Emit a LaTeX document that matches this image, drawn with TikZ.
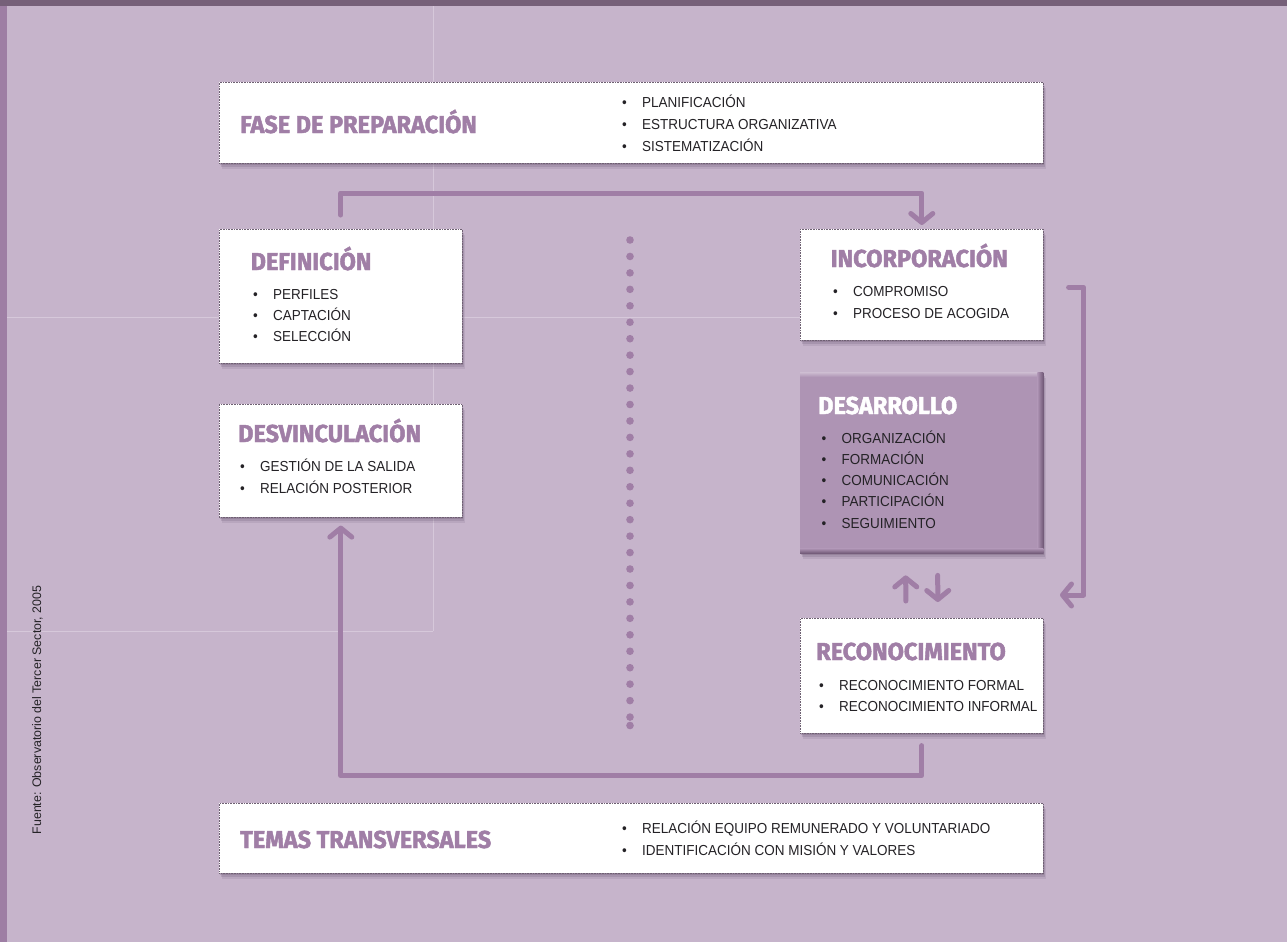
\documentclass[tikz,border=0pt]{standalone}
\usepackage{fontspec}
\setmainfont{Liberation Sans}
\newfontfamily\headfont{Fira Sans}[FakeStretch=0.96,FakeBold=1.8]
\newfontfamily\bodyfont{Liberation Sans}[FakeStretch=0.93]
\usetikzlibrary{arrows.meta}

\definecolor{bgc}{RGB}{198,180,203}
\definecolor{topc}{RGB}{118,96,121}
\definecolor{stripc}{RGB}{158,126,164}
\definecolor{gridc}{RGB}{214,200,218}
\definecolor{headc}{RGB}{160,126,166}
\definecolor{arrowc}{RGB}{160,126,166}
\definecolor{desc}{RGB}{174,148,180}
\definecolor{desdark}{RGB}{112,88,118}
\definecolor{deslight}{RGB}{206,190,210}
\definecolor{bodyc}{RGB}{36,34,38}
\definecolor{borderc}{RGB}{110,96,114}
\definecolor{shadowc}{RGB}{70,50,78}

\newcommand\bodyfnt{\bodyfont\fontsize{14.5}{16}\selectfont}
\newcommand\headfnt{\headfont\bfseries\fontsize{24.5}{28}\selectfont}
\newcommand\bul{\makebox[20pt][l]{•}}

\tikzset{
  boxshadow/.style={
    preaction={fill=shadowc, fill opacity=0.18, transform canvas={xshift=1pt,yshift=-2pt}},
    preaction={fill=shadowc, fill opacity=0.15, transform canvas={xshift=2pt,yshift=-4pt}},
    preaction={fill=shadowc, fill opacity=0.10, transform canvas={xshift=3pt,yshift=-6pt}}},
  card/.style={boxshadow, draw=borderc, densely dotted, line width=0.6pt, fill=white,
    anchor=north west, inner sep=0pt},
  devcard/.style={boxshadow, fill=desc, anchor=north west, inner sep=0pt},
  head/.style={anchor=base west, inner sep=0pt, font=\headfnt, text=headc},
  item/.style={anchor=base west, inner sep=0pt, font=\bodyfnt, text=bodyc},
  flow/.style={draw=arrowc, line width=5pt, line cap=round, line join=round,
    -{Straight Barb[length=9pt,width=22pt,round]}},
  dot/.style={fill=arrowc},
  grid line/.style={draw=gridc, line width=1pt},
}

\begin{document}
\begin{tikzpicture}[x=1pt,y=-1pt]
  \useasboundingbox (0,0) rectangle (1287,942);
  % page background, side strip and top band
  \fill[bgc] (0,0) rectangle (1287,942);
  \draw[grid line] (433,6) -- (433,631);
  \draw[grid line] (6,317) -- (820,317);
  \draw[grid line] (6,631) -- (433,631);
  \fill[stripc] (0,0) rectangle (6.5,942);
  \fill[topc] (0,0) rectangle (1287,6);

  % source note
  \node[rotate=90, anchor=base, inner sep=0pt, text=bodyc,
        font=\fontsize{12.4}{14}\selectfont] (fuente) at (41,710)
        {Fuente: Observatorio del Tercer Sector, 2005};

  % boxes
  \node[card, minimum width=824pt, minimum height=81pt] (fase) at (219,82) {};
  \node[card, minimum width=243pt, minimum height=134pt] (def) at (219,229) {};
  \node[card, minimum width=243pt, minimum height=113pt] (desv) at (219,404) {};
  \node[card, minimum width=243pt, minimum height=111pt] (inc) at (800,229) {};
  \node[devcard, minimum width=243pt, minimum height=181pt] (des) at (800,372) {};
  \node[card, minimum width=243pt, minimum height=115pt] (rec) at (800,618) {};
  \node[card, minimum width=824pt, minimum height=70pt] (temas) at (219,803) {};

  % bevelled edges of the development box
  \shade[top color=deslight, bottom color=desc] (des.north west) rectangle ([yshift=-5pt]des.north east);
  \shade[left color=desc, right color=desdark] ([xshift=-6pt]des.north east) rectangle (des.south east);
  \shade[top color=desc, bottom color=desdark] ([yshift=5pt]des.south west) rectangle (des.south east);

  % headings
  \node[head] (fase-h) at (240,133) {FASE DE PREPARACIÓN};
  \node[head] (def-h) at (250.5,270) {DEFINICIÓN};
  \node[head] (desv-h) at (238,442) {DESVINCULACIÓN};
  \node[head] (inc-h) at (830.5,267) {INCORPORACIÓN};
  \node[head, text=white] (des-h) at (818,414) {DESARROLLO};
  \node[head] (rec-h) at (816,660) {RECONOCIMIENTO};
  \node[head] (temas-h) at (240,848) {TEMAS TRANSVERSALES};

  % bullet lists
  \foreach \t [count=\i] in {PLANIFICACIÓN, ESTRUCTURA ORGANIZATIVA, SISTEMATIZACIÓN}
    \node[item] (fase-\i) at (622,{107+22*(\i-1)}) {\bul\t};
  \foreach \t [count=\i] in {PERFILES, CAPTACIÓN, SELECCIÓN}
    \node[item] (def-\i) at (253,{299+21.3*(\i-1)}) {\bul\t};
  \foreach \t [count=\i] in {GESTIÓN DE LA SALIDA, RELACIÓN POSTERIOR}
    \node[item] (desv-\i) at (240,{471.5+21.5*(\i-1)}) {\bul\t};
  \foreach \t [count=\i] in {COMPROMISO, PROCESO DE ACOGIDA}
    \node[item] (inc-\i) at (833,{296.7+21.3*(\i-1)}) {\bul\t};
  \foreach \t [count=\i] in {ORGANIZACIÓN, FORMACIÓN, COMUNICACIÓN, PARTICIPACIÓN, SEGUIMIENTO}
    \node[item] (des-\i) at (821.5,{443+21.25*(\i-1)}) {\bul\t};
  \foreach \t [count=\i] in {RECONOCIMIENTO FORMAL, RECONOCIMIENTO INFORMAL}
    \node[item] (rec-\i) at (819,{690.7+21*(\i-1)}) {\bul\t};
  \foreach \t [count=\i] in {RELACIÓN EQUIPO REMUNERADO Y VOLUNTARIADO, IDENTIFICACIÓN CON MISIÓN Y VALORES}
    \node[item] (temas-\i) at (622,{833+22.5*(\i-1)}) {\bul\t};

  % dotted divider
  \foreach \k in {0,...,29}
    \fill[dot] (630,{240+16.45*\k}) circle (3.8);
  \fill[dot] (630,725.5) circle (3.8);

  % connectors
  \draw[flow] ([yshift=14pt]def.north) |- ([yshift=36pt]inc.north) -- ([yshift=4pt]inc.north);
  \coordinate (loopend) at (1060,595);
  \draw[flow] ([xshift=25pt,yshift=-2.5pt]inc.east) -- ++(15,0) |- (loopend);
  \draw[flow] ([xshift=-16pt,yshift=17pt]rec.north) -- ([xshift=-16pt,yshift=-22pt]des.south);
  \draw[flow] ([xshift=16pt,yshift=-22pt]des.south) -- ([xshift=16pt,yshift=16pt]rec.north);
  \draw[flow] ([yshift=-12pt]rec.south) -- ++(0,30) -| ([yshift=-8pt]desv.south);
\end{tikzpicture}
\end{document}
